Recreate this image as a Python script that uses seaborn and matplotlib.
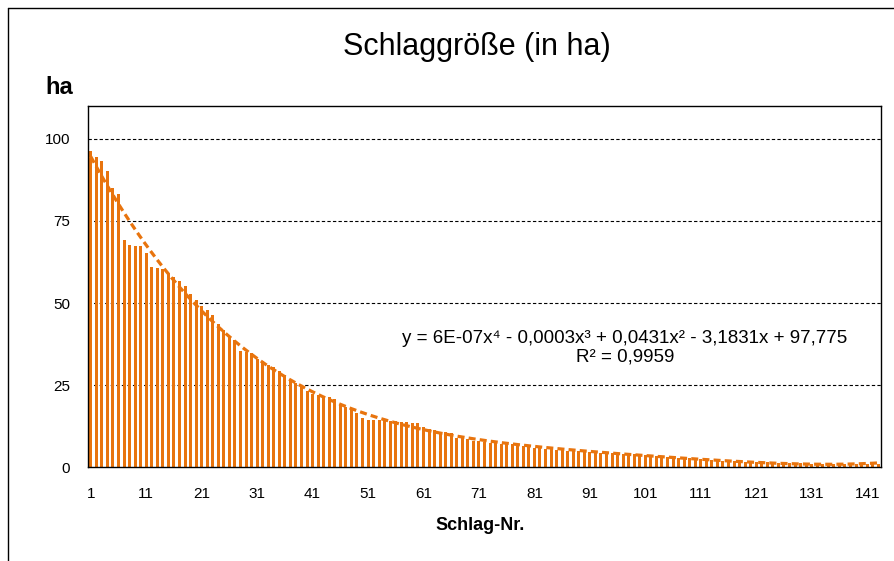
import numpy as np
import pandas as pd
import matplotlib
matplotlib.use("Agg")
import matplotlib.pyplot as plt
from matplotlib.lines import Line2D
import seaborn as sns

# ---- data ----
schlag_nr = list(range(1, 144))
flaeche_ha = [
    96.4, 94.4, 93.2, 90.1, 85.0, 83.1, 69.2, 67.6, 67.3, 67.3,
    65.1, 60.9, 60.6, 60.5, 59.2, 57.9, 56.7, 55.2, 52.8, 50.9,
    49.0, 47.8, 46.5, 43.5, 41.9, 39.9, 38.7, 35.4, 35.1, 34.8,
    33.1, 32.4, 31.1, 30.6, 29.3, 28.1, 26.5, 25.8, 24.7, 23.3,
    22.4, 22.0, 21.5, 21.3, 20.8, 19.1, 18.4, 17.7, 16.4, 14.9,
    14.5, 14.4, 14.4, 14.3, 14.2, 14.1, 13.9, 13.7, 13.6, 13.4,
    12.3, 11.8, 11.3, 10.8, 10.6, 10.3, 8.9, 8.8, 8.5, 8.1,
    8.0, 7.8, 7.5, 7.3, 7.1, 7.0, 7.0, 6.8, 6.6, 6.5,
    5.8, 5.8, 5.6, 5.5, 5.3, 5.3, 5.1, 5.1, 5.0, 4.8,
    4.8, 4.7, 4.5, 4.5, 4.4, 4.3, 4.2, 4.1, 3.9, 3.8,
    3.6, 3.5, 3.4, 3.2, 3.1, 3.0, 2.9, 2.8, 2.7, 2.6,
    2.5, 2.4, 2.2, 2.1, 2.0, 2.0, 1.9, 1.8, 1.7, 1.6,
    1.6, 1.5, 1.5, 1.5, 1.4, 1.4, 1.3, 1.2, 1.2, 1.1,
    1.1, 1.1, 1.0, 1.0, 1.0, 1.0, 1.0, 0.9, 0.9, 0.9,
    0.9, 0.9, 0.9,
]
y_ticks = [0, 25, 50, 75, 100]
x_tick_labels = [str(n) for n in range(1, 144, 10)]

title_text = "Schlaggröße (in ha)"
y_label = "ha"
x_label = "Schlag-Nr."
eq_text = "y = 6E-07x⁴ - 0,0003x³ + 0,0431x² - 3,1831x + 97,775\nR² = 0,9959"

df = pd.DataFrame({"Schlag": schlag_nr, "ha": flaeche_ha})

# ---- style ----
sns.set_theme(style="white")
plt.rcParams["font.family"] = ["Liberation Sans", "DejaVu Sans"]
plt.rcParams["text.color"] = "black"
plt.rcParams["xtick.color"] = "black"
plt.rcParams["ytick.color"] = "black"

orange = "#E8740E"

fig = plt.figure(figsize=(8.95, 5.61), dpi=100)
ax = fig.add_axes([88 / 895, 1 - 467.3 / 561, (881 - 88) / 895, (467.3 - 106) / 561])

sns.barplot(data=df, x="Schlag", y="ha", color=orange, saturation=1,
            width=0.55, ax=ax, order=schlag_nr, linewidth=0, edgecolor="none")

# polynomial trend (degree 4), fitted to the bars like Excel does
coef = np.polyfit(np.array(schlag_nr, float), np.array(flaeche_ha, float), 4)
xf = np.linspace(schlag_nr[0], schlag_nr[-1], 600)
ax.plot(xf - 1, np.polyval(coef, xf), color=orange, lw=2.3,
        linestyle=(0, (2.2, 1.3)), zorder=5)

ax.set_xlim(-0.5, len(schlag_nr) - 0.5)
ax.set_ylim(0, 110)

# gridlines
for v in y_ticks[1:]:
    ax.axhline(v, color="black", lw=0.8, linestyle=(0, (3, 2)), zorder=0)

ax.set_yticks(y_ticks)
ax.set_yticklabels([str(v) for v in y_ticks], fontsize=11)
ax.set_xticks(range(0, len(schlag_nr), 10))
ax.set_xticklabels(x_tick_labels, fontsize=11)
ax.set_xticks(np.arange(-0.5, len(schlag_nr), 10), minor=True)
ax.tick_params(axis="x", which="major", length=0, pad=14)
ax.tick_params(axis="x", which="minor", length=4, width=1, color="black", direction="out")
ax.tick_params(axis="y", which="major", length=7, width=1, color="black", direction="out", pad=6)
ax.set_xlabel("")
ax.set_ylabel("")

for s in ax.spines.values():
    s.set_visible(True)
    s.set_color("black")
    s.set_linewidth(1.0)

# texts
fig.text(477 / 895, 1 - 47 / 561, title_text, ha="center", va="center", fontsize=22)
fig.text(45 / 895, 1 - 88 / 561, y_label, ha="left", va="center", fontsize=17, fontweight="bold")
fig.text(480 / 895, 1 - 525 / 561, x_label, ha="center", va="center", fontsize=13, fontweight="bold")
fig.text(625 / 895, 1 - 348 / 561, eq_text, ha="center", va="center", fontsize=13.5,
         linespacing=1.1)

# chart border (left and top)
fig.add_artist(Line2D([8 / 895, 8 / 895], [0, 1 - 8 / 561], color="black", lw=1))
fig.add_artist(Line2D([8 / 895, 1], [1 - 8 / 561, 1 - 8 / 561], color="black", lw=1))

fig.savefig("out.png", dpi=100)
